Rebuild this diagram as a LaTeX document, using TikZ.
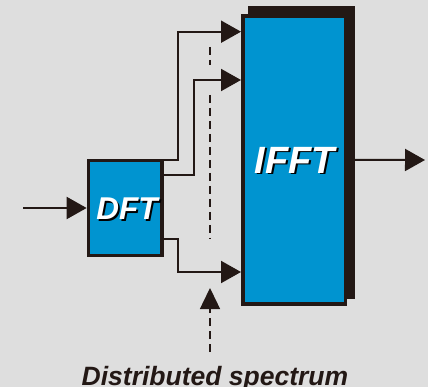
\documentclass[tikz,border=0pt]{standalone}
\usepackage{fontspec}
\setmainfont{Liberation Sans}
\usetikzlibrary{arrows.meta,calc}
\definecolor{bg}{HTML}{DEDEDE}
\definecolor{ink}{HTML}{231815}
\definecolor{boxblue}{HTML}{0094D0}
\newcommand{\shtext}[1]{\makebox[0pt][l]{\hspace{1.8pt}\raisebox{-1.8pt}{\color{black}#1}}#1}
\tikzset{
  blk/.style={draw=ink, fill=boxblue, line width=3.5pt, inner sep=0pt},
  conn/.style={draw=ink, line width=2pt, -{Triangle[length=20pt,width=22pt]}},
  dsh/.style={draw=ink, line width=1.4pt, dash pattern=on 8pt off 5pt},
  lbl/.style={text=white, inner sep=0pt},
}
\begin{document}
\begin{tikzpicture}[x=1pt,y=-1pt]
\fill[bg] (0,0) rectangle (428,387);
\useasboundingbox (0,0) rectangle (428,387);
% IFFT shadow and box
\fill[ink] (248,6) rectangle (354.7,299);
\node[blk, minimum width=102.5pt, minimum height=288.2pt] (ifft) at (294,159.9) {};
\node[lbl, font=\fontsize{38}{38}\selectfont\bfseries\itshape] (ifftt) at (295,161) {\shtext{IFFT}};
% DFT
\node[blk, minimum width=73.8pt, minimum height=95.1pt] (dft) at (125.3,208) {};
\node[lbl, font=\fontsize{31.5}{31.5}\selectfont\bfseries\itshape] (dftt) at (127,209.5) {\shtext{DFT}};
% input / output
\coordinate (in) at (23,208);
\coordinate (out) at (425,160);
\draw[conn] (in) -- (dft.west);
\draw[conn] (ifft.east -| 354.7,0) -- (out);
% connectors DFT -> IFFT
\draw[conn] (dft.east |- 0,160) -| (178,31.7) -- (ifft.west |- 0,31.7);
\draw[conn] (dft.east |- 0,175.3) -| (194,80) -- (ifft.west |- 0,80);
\draw[conn] (dft.east |- 0,239.3) -| (178,272) -- (ifft.west |- 0,272);
% dashed dots
\coordinate (d1) at (210,47);
\coordinate (d2) at (210,65);
\coordinate (d3) at (210,95);
\coordinate (d4) at (210,239);
\draw[dsh] (d1) -- (d2);
\draw[dsh] (d3) -- (d4);
% bottom dashed arrow
\coordinate (b0) at (210,352);
\coordinate (b1) at (210,288);
\draw[dsh] (b0) -- (210,305);
\draw[draw=ink, line width=1.4pt, -{Triangle[length=21pt,width=20pt]}] (210,306) -- (b1);
\node[anchor=base, text=ink, inner sep=0pt, font=\fontsize{26.5}{26.5}\selectfont\bfseries\itshape] (cap) at (215,385) {Distributed spectrum};
\end{tikzpicture}
\end{document}
